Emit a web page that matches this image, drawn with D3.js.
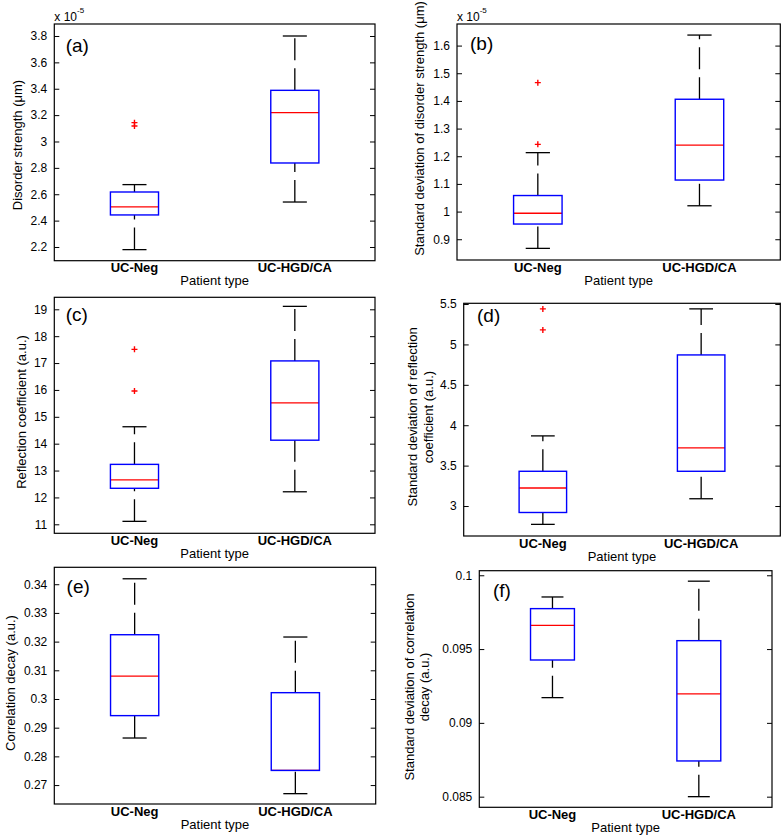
<!DOCTYPE html>
<html><head><meta charset="utf-8">
<script src="https://cdn.jsdelivr.net/npm/d3@7"></script>
<style>
body{margin:0;background:#fff}
svg{display:block}
text{font-family:Arial,"Liberation Sans",sans-serif;fill:#000}
</style>
</head><body>
<svg id="chart" width="782" height="838"></svg>
<script>
// ---------- data ----------
const categories = ["UC-Neg", "UC-HGD/CA"];
const xAxisTitle = "Patient type";

// (a) Disorder strength (x 1e-5)
const aLow = [2.180, 2.541], aQ1 = [2.443, 2.837], aMed = [2.504, 3.219], aQ3 = [2.617, 3.388], aHigh = [2.673, 3.800];
const aOut = [[3.118, 3.143], []];
const aTicks = [2.2, 2.4, 2.6, 2.8, 3.0, 3.2, 3.4, 3.6, 3.8];
const aTickLabels = ["2.2", "2.4", "2.6", "2.8", "3", "3.2", "3.4", "3.6", "3.8"];
const aLimits = [2.096, 3.891];

// (b) Std of disorder strength (x 1e-5)
const bLow = [0.867, 1.021], bQ1 = [0.955, 1.114], bMed = [0.994, 1.240], bQ3 = [1.058, 1.406], bHigh = [1.213, 1.638];
const bOut = [[1.243, 1.466], []];
const bTicks = [0.9, 1.0, 1.1, 1.2, 1.3, 1.4, 1.5, 1.6];
const bTickLabels = ["0.9", "1", "1.1", "1.2", "1.3", "1.4", "1.5", "1.6"];
const bLimits = [0.825, 1.678];

// (c) Reflection coefficient
const cLow = [11.11, 12.21], cQ1 = [12.34, 14.13], cMed = [12.65, 15.52], cQ3 = [13.23, 17.08], cHigh = [14.63, 19.11];
const cOut = [[15.96, 17.51], []];
const cTicks = [11, 12, 13, 14, 15, 16, 17, 18, 19];
const cTickLabels = ["11", "12", "13", "14", "15", "16", "17", "18", "19"];
const cLimits = [10.665, 19.447];

// (d) Std of reflection coefficient
const dLow = [2.773, 3.09], dQ1 = [2.92, 3.43], dMed = [3.223, 3.72], dQ3 = [3.43, 4.87], dHigh = [3.868, 5.44];
const dOut = [[5.18, 5.44], []];
const dTicks = [3, 3.5, 4, 4.5, 5, 5.5];
const dTickLabels = ["3", "3.5", "4", "4.5", "5", "5.5"];
const dLimits = [2.629, 5.509];

// (e) Correlation decay
const eLow = [0.2864, 0.2670], eQ1 = [0.2942, 0.2751], eMed = [0.3080, 0.2751], eQ3 = [0.3224, 0.3022], eHigh = [0.3419, 0.3216];
const eOut = [[], []];
const eTicks = [0.27, 0.28, 0.29, 0.30, 0.31, 0.32, 0.33, 0.34];
const eTickLabels = ["0.27", "0.28", "0.29", "0.3", "0.31", "0.32", "0.33", "0.34"];
const eLimits = [0.2634, 0.3459];

// (f) Std of correlation decay
const fLow = [0.09171, 0.08500], fQ1 = [0.09426, 0.08742], fMed = [0.09661, 0.09196], fQ3 = [0.09774, 0.09557], fHigh = [0.09853, 0.09960];
const fOut = [[], []];
const fTicks = [0.085, 0.09, 0.095, 0.1];
const fTickLabels = ["0.085", "0.09", "0.095", "0.1"];
const fLimits = [0.08428, 0.10031];

// ---------- layout ----------
const panels = [
  {tag:"(a)", low:aLow,q1:aQ1,med:aMed,q3:aQ3,high:aHigh,out:aOut,ticks:aTicks,tickLabels:aTickLabels,lim:aLimits,
   box:[54.3,375,24,260.7], tagDx:11.4, tagCy:22.7, ylab:["Disorder strength (μm)"], ylabX:[21.5], ylabCy:145, exp:true},
  {tag:"(b)", low:bLow,q1:bQ1,med:bMed,q3:bQ3,high:bHigh,out:bOut,ticks:bTicks,tickLabels:bTickLabels,lim:bLimits,
   box:[457,780.3,24,260], tagDx:13, tagCy:21, ylab:["Standard deviation of disorder strength (μm)"], ylabX:[423.7], ylabCy:128.5, exp:true},
  {tag:"(c)", low:cLow,q1:cQ1,med:cMed,q3:cQ3,high:cHigh,out:cOut,ticks:cTicks,tickLabels:cTickLabels,lim:cLimits,
   box:[54.3,375,297.3,533.3], tagDx:11.4, tagCy:18.5, ylab:["Reflection coefficient (a.u.)"], ylabX:[25.5], ylabCy:412, exp:false},
  {tag:"(d)", low:dLow,q1:dQ1,med:dMed,q3:dQ3,high:dHigh,out:dOut,ticks:dTicks,tickLabels:dTickLabels,lim:dLimits,
   box:[463.7,780.3,303.3,536], tagDx:13.3, tagCy:14, ylab:["Standard deviation of reflection","coefficient (a.u.)"], ylabX:[417,432.7], ylabCy:417, exp:false},
  {tag:"(e)", low:eLow,q1:eQ1,med:eMed,q3:eQ3,high:eHigh,out:eOut,ticks:eTicks,tickLabels:eTickLabels,lim:eLimits,
   box:[54.3,375.7,567.3,804], tagDx:12.3, tagCy:20.2, ylab:["Correlation decay (a.u.)"], ylabX:[15], ylabCy:683, exp:false},
  {tag:"(f)", low:fLow,q1:fQ1,med:fMed,q3:fQ3,high:fHigh,out:fOut,ticks:fTicks,tickLabels:fTickLabels,lim:fLimits,
   box:[479.3,772,570.7,807.3], tagDx:13.7, tagCy:21, ylab:["Standard deviation of correlation","decay (a.u.)"], ylabX:[414.3,429.3], ylabCy:687, exp:false}
];

const svg = d3.select("#chart");
const BOXW = 0.3;   // box width in category units
const CAPW = 0.15;  // whisker cap width

panels.forEach(p => {
  const [L, R, T, B] = p.box;
  const x = d3.scaleLinear().domain([0.5, 2.5]).range([L, R]);
  const y = d3.scaleLinear().domain(p.lim).range([B, T]);
  const g = svg.append("g");

  // left axis (ticks inward)
  const fmt = v => p.tickLabels[p.ticks.indexOf(v)];
  const axL = g.append("g").attr("transform", `translate(${L},0)`)
    .call(d3.axisLeft(y).tickValues(p.ticks).tickFormat(fmt).tickSizeInner(-5).tickSizeOuter(0).tickPadding(7));
  axL.select(".domain").remove();
  axL.selectAll("text").attr("font-size", 12).attr("font-family", "Arial, 'Liberation Sans', sans-serif").attr("fill", "#000");
  axL.selectAll("line").attr("stroke", "#000");
  const axR = g.append("g").attr("transform", `translate(${R},0)`)
    .call(d3.axisRight(y).tickValues(p.ticks).tickFormat("").tickSizeInner(-5).tickSizeOuter(0));
  axR.select(".domain").remove();
  axR.selectAll("line").attr("stroke", "#000");

  // frame
  g.append("rect").attr("x", L).attr("y", T).attr("width", R - L).attr("height", B - T)
    .attr("fill", "none").attr("stroke", "#000").attr("stroke-width", 1.2);

  const idx = [0, 1];
  // whiskers (dashed, drawn from lower to higher value)
  idx.forEach(i => {
    const cx = x(i + 1);
    g.append("line").attr("x1", cx).attr("x2", cx).attr("y1", y(p.low[i])).attr("y2", y(p.q1[i]))
      .attr("stroke", "#000").attr("stroke-width", 1.3).attr("stroke-dasharray", "22,8");
    g.append("line").attr("x1", cx).attr("x2", cx).attr("y1", y(p.q3[i])).attr("y2", y(p.high[i]))
      .attr("stroke", "#000").attr("stroke-width", 1.3).attr("stroke-dasharray", "22,8");
    [p.low[i], p.high[i]].forEach(v => {
      g.append("line").attr("x1", x(i + 1 - CAPW / 2)).attr("x2", x(i + 1 + CAPW / 2))
        .attr("y1", y(v)).attr("y2", y(v)).attr("stroke", "#000").attr("stroke-width", 1.3);
    });
  });
  // medians (under boxes)
  idx.forEach(i => {
    g.append("line").attr("x1", x(i + 1 - BOXW / 2)).attr("x2", x(i + 1 + BOXW / 2))
      .attr("y1", y(p.med[i])).attr("y2", y(p.med[i])).attr("stroke", "#ff0000").attr("stroke-width", 1.3);
  });
  // boxes
  idx.forEach(i => {
    g.append("rect").attr("x", x(i + 1 - BOXW / 2)).attr("width", x(i + 1 + BOXW / 2) - x(i + 1 - BOXW / 2))
      .attr("y", y(p.q3[i])).attr("height", y(p.q1[i]) - y(p.q3[i]))
      .attr("fill", "none").attr("stroke", "#0000ff").attr("stroke-width", 1.4);
  });
  // outliers
  idx.forEach(i => {
    p.out[i].forEach(v => {
      const cx = x(i + 1), cy = y(v), s = 3;
      g.append("path").attr("d", `M${cx - s},${cy}H${cx + s}M${cx},${cy - s}V${cy + s}`)
        .attr("stroke", "#ff0000").attr("stroke-width", 1.4).attr("fill", "none");
    });
  });

  // category labels
  categories.forEach((c, i) => {
    g.append("text").attr("x", x(i + 1)).attr("y", B + 11.5).attr("text-anchor", "middle")
      .attr("font-size", 13).attr("font-weight", "bold").text(c);
  });
  g.append("text").attr("x", (L + R) / 2).attr("y", B + 24.5).attr("text-anchor", "middle")
    .attr("font-size", 13).text(xAxisTitle);

  // panel tag
  g.append("text").attr("x", L + p.tagDx).attr("y", T + p.tagCy + 5).attr("font-size", 19).text(p.tag);

  // y label
  p.ylab.forEach((line, k) => {
    g.append("text").attr("transform", `translate(${p.ylabX[k]},${p.ylabCy}) rotate(-90)`)
      .attr("text-anchor", "middle").attr("font-size", 13).text(line);
  });

  // exponent
  if (p.exp) {
    const t = g.append("text").attr("x", L).attr("y", T - 3.5).attr("font-size", 12);
    t.append("tspan").text("x 10");
    t.append("tspan").attr("dy", -8).attr("font-size", 8).text("-5");
  }
});
</script>
</body></html>
